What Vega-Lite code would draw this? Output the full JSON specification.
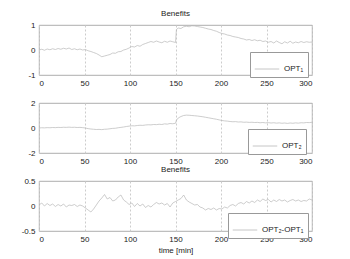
{
  "$schema": "https://vega.github.io/schema/vega-lite/v6.json",
  "padding": {"left": 20, "top": 9, "right": 5, "bottom": 5},
  "background": "white",
  "spacing": 28,
  "bounds": "flush",
  "config": {
    "font": "Liberation Sans",
    "view": {"stroke": "#999", "strokeWidth": 0.8},
    "axis": {"labelFontSize": 8, "labelColor": "#222", "domain": false, "ticks": false, "labelPadding": 4, "titleFontSize": 8, "titleFontWeight": "normal", "titleColor": "#222", "format": "~r", "labelExpr": "replace(datum.label, '\u2212', '-')"},
    "title": {"fontSize": 8, "fontWeight": "normal", "color": "#222", "offset": 3},
    "legend": {"orient": "none", "strokeColor": "#999", "fillColor": "white", "padding": 4, "symbolType": "stroke", "symbolSize": 600, "symbolStrokeWidth": 0.8, "labelFontSize": 8, "labelColor": "#222", "title": null, "cornerRadius": 0}
  },
  "datasets": {
    "d": [
      {"t":0,"a":0.00,"b":0.00,"c":0.02},
      {"t":3,"a":0.03,"b":0.02,"c":0.06},
      {"t":6,"a":-0.01,"b":0.01,"c":0.00},
      {"t":9,"a":0.04,"b":0.03,"c":0.05},
      {"t":12,"a":0.01,"b":0.02,"c":0.01},
      {"t":15,"a":0.05,"b":0.04,"c":0.04},
      {"t":18,"a":0.02,"b":0.03,"c":-0.01},
      {"t":21,"a":0.06,"b":0.05,"c":0.03},
      {"t":24,"a":0.03,"b":0.04,"c":0.00},
      {"t":27,"a":0.07,"b":0.06,"c":0.04},
      {"t":30,"a":0.04,"b":0.05,"c":-0.02},
      {"t":33,"a":0.08,"b":0.07,"c":0.02},
      {"t":36,"a":0.02,"b":0.05,"c":0.01},
      {"t":39,"a":0.05,"b":0.06,"c":0.03},
      {"t":42,"a":0.01,"b":0.04,"c":-0.01},
      {"t":45,"a":0.04,"b":0.05,"c":0.02},
      {"t":48,"a":0.00,"b":0.03,"c":0.00},
      {"t":51,"a":0.02,"b":0.00,"c":-0.04},
      {"t":54,"a":-0.03,"b":-0.05,"c":-0.08},
      {"t":57,"a":-0.06,"b":-0.08,"c":-0.12},
      {"t":60,"a":-0.10,"b":-0.10,"c":-0.06},
      {"t":63,"a":-0.14,"b":-0.12,"c":0.02},
      {"t":66,"a":-0.20,"b":-0.11,"c":0.10},
      {"t":69,"a":-0.27,"b":-0.13,"c":0.16},
      {"t":72,"a":-0.24,"b":-0.10,"c":0.23},
      {"t":75,"a":-0.21,"b":-0.09,"c":0.14},
      {"t":78,"a":-0.18,"b":-0.06,"c":0.17},
      {"t":81,"a":-0.12,"b":-0.03,"c":0.10},
      {"t":84,"a":-0.13,"b":-0.02,"c":0.12},
      {"t":87,"a":-0.07,"b":0.02,"c":0.18},
      {"t":90,"a":-0.06,"b":0.05,"c":0.22},
      {"t":93,"a":0.00,"b":0.08,"c":0.12},
      {"t":96,"a":0.03,"b":0.12,"c":0.08},
      {"t":99,"a":0.08,"b":0.15,"c":0.03},
      {"t":102,"a":0.14,"b":0.18,"c":0.06},
      {"t":105,"a":0.12,"b":0.17,"c":-0.01},
      {"t":108,"a":0.18,"b":0.20,"c":0.05},
      {"t":111,"a":0.15,"b":0.22,"c":0.00},
      {"t":114,"a":0.22,"b":0.21,"c":0.04},
      {"t":117,"a":0.26,"b":0.24,"c":-0.03},
      {"t":120,"a":0.30,"b":0.26,"c":0.01},
      {"t":123,"a":0.34,"b":0.25,"c":-0.02},
      {"t":126,"a":0.31,"b":0.28,"c":0.03},
      {"t":129,"a":0.36,"b":0.27,"c":0.07},
      {"t":132,"a":0.32,"b":0.30,"c":0.04},
      {"t":135,"a":0.29,"b":0.28,"c":0.06},
      {"t":138,"a":0.35,"b":0.33,"c":0.02},
      {"t":141,"a":0.31,"b":0.31,"c":0.05},
      {"t":144,"a":0.36,"b":0.36,"c":-0.02},
      {"t":147,"a":0.33,"b":0.34,"c":0.06},
      {"t":150,"a":0.30,"b":0.38,"c":0.09},
      {"t":151,"a":0.82,"b":0.62,"c":0.10},
      {"t":153,"a":0.88,"b":0.80,"c":0.12},
      {"t":156,"a":0.86,"b":0.92,"c":0.15},
      {"t":159,"a":0.93,"b":1.00,"c":0.22},
      {"t":162,"a":0.95,"b":1.03,"c":0.12},
      {"t":165,"a":0.93,"b":1.02,"c":0.08},
      {"t":168,"a":0.97,"b":1.00,"c":0.05},
      {"t":171,"a":0.96,"b":0.98,"c":0.02},
      {"t":174,"a":0.94,"b":0.96,"c":0.03},
      {"t":177,"a":0.92,"b":0.93,"c":-0.02},
      {"t":180,"a":0.90,"b":0.90,"c":-0.04},
      {"t":183,"a":0.87,"b":0.86,"c":-0.08},
      {"t":186,"a":0.84,"b":0.82,"c":-0.05},
      {"t":189,"a":0.82,"b":0.78,"c":-0.07},
      {"t":192,"a":0.78,"b":0.74,"c":-0.04},
      {"t":195,"a":0.75,"b":0.70,"c":-0.08},
      {"t":198,"a":0.70,"b":0.65,"c":-0.05},
      {"t":201,"a":0.66,"b":0.60,"c":-0.06},
      {"t":204,"a":0.64,"b":0.57,"c":-0.02},
      {"t":207,"a":0.60,"b":0.55,"c":-0.04},
      {"t":210,"a":0.58,"b":0.52,"c":0.01},
      {"t":213,"a":0.54,"b":0.50,"c":0.03},
      {"t":216,"a":0.52,"b":0.51,"c":0.00},
      {"t":219,"a":0.50,"b":0.48,"c":0.05},
      {"t":222,"a":0.46,"b":0.49,"c":0.07},
      {"t":225,"a":0.44,"b":0.46,"c":0.04},
      {"t":228,"a":0.40,"b":0.47,"c":0.09},
      {"t":231,"a":0.42,"b":0.45,"c":0.06},
      {"t":234,"a":0.38,"b":0.46,"c":0.10},
      {"t":237,"a":0.41,"b":0.44,"c":0.07},
      {"t":240,"a":0.37,"b":0.45,"c":0.12},
      {"t":243,"a":0.39,"b":0.42,"c":0.09},
      {"t":246,"a":0.34,"b":0.44,"c":0.14},
      {"t":249,"a":0.36,"b":0.41,"c":0.11},
      {"t":252,"a":0.31,"b":0.43,"c":0.13},
      {"t":255,"a":0.34,"b":0.40,"c":0.08},
      {"t":258,"a":0.28,"b":0.42,"c":0.12},
      {"t":261,"a":0.36,"b":0.39,"c":0.09},
      {"t":264,"a":0.30,"b":0.41,"c":0.13},
      {"t":267,"a":0.25,"b":0.38,"c":0.10},
      {"t":270,"a":0.33,"b":0.40,"c":0.12},
      {"t":273,"a":0.28,"b":0.37,"c":0.08},
      {"t":276,"a":0.35,"b":0.40,"c":0.11},
      {"t":279,"a":0.27,"b":0.38,"c":0.13},
      {"t":282,"a":0.32,"b":0.41,"c":0.10},
      {"t":285,"a":0.29,"b":0.39,"c":0.12},
      {"t":288,"a":0.34,"b":0.42,"c":0.09},
      {"t":291,"a":0.30,"b":0.41,"c":0.11},
      {"t":294,"a":0.33,"b":0.44,"c":0.10},
      {"t":297,"a":0.31,"b":0.43,"c":0.14},
      {"t":300,"a":0.32,"b":0.46,"c":0.12}
    ]
  },
  "resolve": {"scale": {"color": "independent", "y": "independent"}, "legend": {"color": "independent"}},
  "vconcat": [
    {
      "width": 273, "height": 50,
      "title": "Benefits",
      "data": {"name": "d"},
      "mark": {"type": "line", "strokeWidth": 0.7},
      "encoding": {
        "x": {"field": "t", "type": "quantitative", "scale": {"domain": [0, 300], "nice": false}, "axis": {"values": [0, 50, 100, 150, 200, 250, 300], "title": null, "grid": true, "gridDash": [2, 2], "gridColor": "#ccc"}},
        "y": {"field": "a", "type": "quantitative", "scale": {"domain": [-1, 1], "nice": false}, "axis": {"values": [-1, 0, 1], "title": null, "grid": false}},
        "color": {"datum": "OPT₁", "scale": {"range": ["#b8b8b8"]}, "legend": {"legendX": 211, "legendY": 27}}
      }
    },
    {
      "width": 273, "height": 50,
      "data": {"name": "d"},
      "mark": {"type": "line", "strokeWidth": 0.7},
      "encoding": {
        "x": {"field": "t", "type": "quantitative", "scale": {"domain": [0, 300], "nice": false}, "axis": {"values": [0, 50, 100, 150, 200, 250, 300], "title": null, "grid": true, "gridDash": [2, 2], "gridColor": "#ccc"}},
        "y": {"field": "b", "type": "quantitative", "scale": {"domain": [-2, 2], "nice": false}, "axis": {"values": [-2, 0, 2], "title": null, "grid": false}},
        "color": {"datum": "OPT₂", "scale": {"range": ["#b8b8b8"]}, "legend": {"legendX": 209, "legendY": 26}}
      }
    },
    {
      "width": 273, "height": 50,
      "title": "Benefits",
      "data": {"name": "d"},
      "mark": {"type": "line", "strokeWidth": 0.7},
      "encoding": {
        "x": {"field": "t", "type": "quantitative", "scale": {"domain": [0, 300], "nice": false}, "axis": {"values": [0, 50, 100, 150, 200, 250, 300], "title": "time [min]", "titleColor": "#222", "titlePadding": 3, "grid": true, "gridDash": [2, 2], "gridColor": "#ccc"}},
        "y": {"field": "c", "type": "quantitative", "scale": {"domain": [-0.5, 0.5], "nice": false}, "axis": {"values": [-0.5, 0, 0.5], "title": null, "grid": false}},
        "color": {"datum": "OPT₂-OPT₁", "scale": {"range": ["#b8b8b8"]}, "legend": {"legendX": 189, "legendY": 32}}
      }
    }
  ]
}
